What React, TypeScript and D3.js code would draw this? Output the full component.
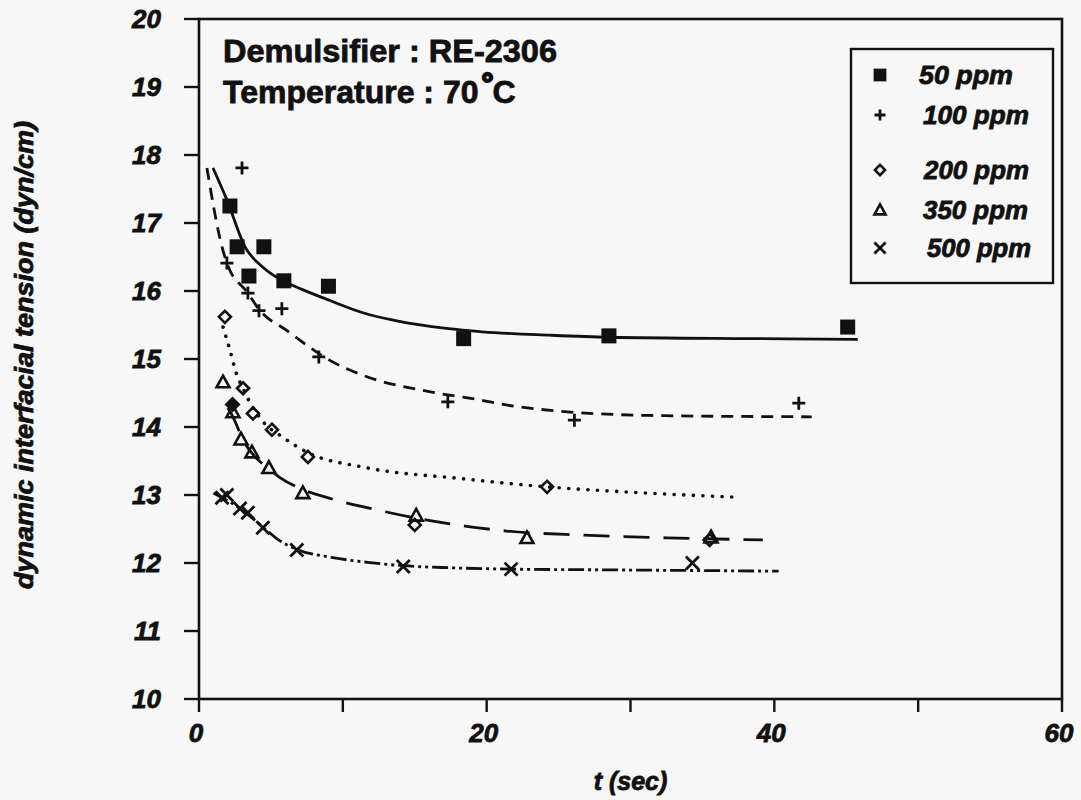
import React from "react";
import * as d3 from "d3";

// ---- data ----
const xTickMarks = [0, 10, 20, 30, 40, 50, 60];
const xTickLabels = [0, 20, 40, 60];
const yTicks = [10, 11, 12, 13, 14, 15, 16, 17, 18, 19, 20];

const legendLabels = ["50 ppm", "100 ppm", "200 ppm", "350 ppm", "500 ppm"];

const t50 = [2.15, 2.65, 3.47, 4.51, 5.9, 9.0, 18.4, 28.5, 45.1];
const y50 = [17.25, 16.65, 16.22, 16.65, 16.15, 16.07, 15.3, 15.34, 15.47];

const t100 = [2.99, 1.94, 3.4, 4.17, 5.76, 8.33, 17.3, 26.1, 41.7];
const y100 = [17.81, 16.41, 15.97, 15.71, 15.74, 15.03, 14.37, 14.1, 14.35];

const t200 = [1.8, 3.06, 3.75, 5.07, 7.57, 15.0, 24.2, 35.5];
const y200 = [15.62, 14.57, 14.2, 13.96, 13.56, 12.56, 13.12, 12.34];
const t200Solid = [2.33];
const y200Solid = [14.33];

const t350 = [1.67, 2.36, 2.92, 3.68, 4.86, 7.22, 15.1, 22.8, 35.6];
const y350 = [14.66, 14.22, 13.82, 13.63, 13.4, 13.03, 12.7, 12.37, 12.38];

const t500 = [1.6, 1.94, 2.85, 3.4, 4.44, 6.8, 14.2, 21.7, 34.3];
const y500 = [12.96, 13.0, 12.8, 12.74, 12.52, 12.19, 11.95, 11.91, 12.0];

const fit50T = [0.97, 1.94, 3.2, 4.44, 5.83, 7.2, 9.1, 11.4, 13.75, 17.2, 19.7, 24.4, 28.5, 38.3, 45.8];
const fit50Y = [17.81, 17.34, 16.65, 16.35, 16.15, 16.02, 15.86, 15.68, 15.56, 15.45, 15.4, 15.35, 15.32, 15.3, 15.29];

const fit100T = [0.55, 1.6, 1.94, 3.4, 4.17, 6.1, 9.1, 11.4, 16, 19.5, 22.1, 31.3, 42.6];
const fit100Y = [17.81, 16.65, 16.41, 15.97, 15.73, 15.42, 14.98, 14.76, 14.52, 14.4, 14.3, 14.17, 14.15];

const fit200T = [1.67, 2.15, 2.64, 3.06, 3.54, 4.44, 5.83, 7.5, 11.4, 18.3, 24.2, 30.1, 37.1];
const fit200Y = [15.47, 15.13, 14.76, 14.57, 14.36, 14.08, 13.85, 13.63, 13.41, 13.24, 13.12, 13.04, 12.97];

const fit350T = [2.0, 2.36, 3.06, 3.9, 4.7, 5.6, 7.0, 9.1, 12.6, 15.1, 18.6, 21.4, 26.7, 32.5, 39.2];
const fit350Y = [14.28, 14.15, 13.81, 13.56, 13.41, 13.26, 13.1, 12.95, 12.77, 12.66, 12.54, 12.47, 12.41, 12.37, 12.34];

const fit500T = [1.0, 2.85, 4.44, 5.4, 6.8, 9.3, 11.7, 14.2, 17.4, 21.7, 27.8, 40.3];
const fit500Y = [13.03, 12.8, 12.53, 12.36, 12.2, 12.08, 12.01, 11.96, 11.93, 11.91, 11.9, 11.88];

// ---- layout ----
const W = 1081;
const H = 800;
const x = d3.scaleLinear().domain([0, 60]).range([199, 1062]);
const y = d3.scaleLinear().domain([10, 20]).range([699, 19]);

const FONT = "'Liberation Sans', Arial, Helvetica, sans-serif";
const INK = "#111";
const TS = 0.8; // text stroke to thicken glyphs

type Pt = [number, number];
const zip = (a: number[], b: number[]): Pt[] => a.map((v, i) => [v, b[i]]);

const lineGen = d3
  .line<Pt>()
  .x((d) => x(d[0]))
  .y((d) => y(d[1]))
  .curve(d3.curveMonotoneX);

type Kind = "square" | "plus" | "diamond" | "triangle" | "cross" | "diamondSolid";

function Marker({ kind, cx, cy, s = 1 }: { kind: Kind; cx: number; cy: number; s?: number }) {
  switch (kind) {
    case "square": {
      const h = 7.5 * s;
      return <rect x={cx - h} y={cy - h} width={2 * h} height={2 * h} fill={INK} />;
    }
    case "plus": {
      const h = 6.5 * s;
      return (
        <path
          d={`M${cx - h},${cy}H${cx + h}M${cx},${cy - h}V${cy + h}`}
          stroke={INK}
          strokeWidth={2.8}
          fill="none"
        />
      );
    }
    case "diamond": {
      const h = 6 * s;
      return (
        <path
          d={`M${cx},${cy - h}L${cx + h},${cy}L${cx},${cy + h}L${cx - h},${cy}Z`}
          stroke={INK}
          strokeWidth={2.6}
          fill="none"
        />
      );
    }
    case "diamondSolid": {
      const h = 7 * s;
      return (
        <path
          d={`M${cx},${cy - h}L${cx + h},${cy}L${cx},${cy + h}L${cx - h},${cy}Z`}
          stroke={INK}
          strokeWidth={1.5}
          fill={INK}
        />
      );
    }
    case "triangle": {
      const h = 6.5 * s;
      return (
        <path
          d={`M${cx},${cy - h}L${cx + h},${cy + h * 0.8}L${cx - h},${cy + h * 0.8}Z`}
          stroke={INK}
          strokeWidth={2.6}
          fill="none"
          strokeLinejoin="miter"
        />
      );
    }
    case "cross": {
      const h = 6.5 * s;
      return (
        <path
          d={`M${cx - h},${cy - h}L${cx + h},${cy + h}M${cx - h},${cy + h}L${cx + h},${cy - h}`}
          stroke={INK}
          strokeWidth={2.8}
          fill="none"
        />
      );
    }
  }
  return null;
}

const series = [
  { t: t50, v: y50, kind: "square" as Kind, fitT: fit50T, fitY: fit50Y, dash: "none", cap: "butt" },
  { t: t100, v: y100, kind: "plus" as Kind, fitT: fit100T, fitY: fit100Y, dash: "12 8", cap: "butt" },
  { t: t200, v: y200, kind: "diamond" as Kind, fitT: fit200T, fitY: fit200Y, dash: "0.1 9.5", cap: "round" },
  { t: t350, v: y350, kind: "triangle" as Kind, fitT: fit350T, fitY: fit350Y, dash: "26 14", cap: "butt" },
  { t: t500, v: y500, kind: "cross" as Kind, fitT: fit500T, fitY: fit500Y, dash: "16 4 3 4 3 4", cap: "butt" },
];

const legendY = [75, 115, 170, 210, 248];
const legendTextX = [919, 923, 924, 923, 927];
const legendTextLen = [94, 106, 105, 105, 104];

export default function App() {
  const [x0, x1] = x.range();
  const [y0, y1] = y.range();
  const heavy = { fontWeight: "bold" as const, fill: INK, stroke: INK, strokeWidth: TS };
  return (
    <div style={{ position: "absolute", left: 0, top: 0 }}>
      <svg width={W} height={H} style={{ display: "block", background: "#f7f7f7" }} fontFamily={FONT}>
        {/* frame */}
        <rect x={x0} y={y1} width={x1 - x0} height={y0 - y1} fill="none" stroke={INK} strokeWidth={2.6} />

        {/* y ticks */}
        {yTicks.map((v) => (
          <g key={"y" + v}>
            <line x1={x0 - 15} x2={x0} y1={y(v)} y2={y(v)} stroke={INK} strokeWidth={2.4} />
            <text x={161} y={y(v)} dy="0.36em" textAnchor="end" fontSize={26} fontStyle="italic" {...heavy}>
              {v}
            </text>
          </g>
        ))}

        {/* x ticks */}
        {xTickMarks.map((v) => (
          <line key={"xt" + v} x1={x(v)} x2={x(v)} y1={y0} y2={y0 + 13} stroke={INK} strokeWidth={2.4} />
        ))}
        {xTickLabels.map((v) => (
          <text key={"xl" + v} x={x(v) - 3} y={y0 + 43} textAnchor="middle" fontSize={26} fontStyle="italic" {...heavy}>
            {v}
          </text>
        ))}

        {/* axis titles */}
        <text x={(x0 + x1) / 2} y={790} textAnchor="middle" fontSize={25} fontStyle="italic" {...heavy}>
          t (sec)
        </text>
        <text
          transform={`translate(33, ${(y0 + y1) / 2 - 4}) rotate(-90)`}
          textAnchor="middle"
          fontSize={25}
          fontStyle="italic"
          textLength={468}
          lengthAdjust="spacingAndGlyphs"
          {...heavy}
        >
          dynamic interfacial tension (dyn/cm)
        </text>

        {/* annotation */}
        <text x={223} y={62} fontSize={32} textLength={334} lengthAdjust="spacingAndGlyphs" {...heavy}>
          Demulsifier : RE-2306
        </text>
        <text x={223} y={103} fontSize={32} {...heavy}>
          Temperature : 70
          <tspan dx={3} dy={-9} fontSize={30} strokeWidth={2}>
            °
          </tspan>
          <tspan dx={-1} dy={9}>C</tspan>
        </text>

        {/* fitted curves */}
        {series.map((s, i) => (
          <path
            key={"fit" + i}
            d={lineGen(zip(s.fitT, s.fitY)) || ""}
            fill="none"
            stroke={INK}
            strokeWidth={i === 2 ? 3.6 : 2.8}
            strokeDasharray={s.dash}
            strokeLinecap={s.cap as any}
          />
        ))}

        {/* markers */}
        {series.map((s, i) => (
          <g key={"m" + i}>
            {s.t.map((tv, j) => (
              <Marker key={j} kind={s.kind} cx={x(tv)} cy={y(s.v[j])} />
            ))}
          </g>
        ))}
        {t200Solid.map((tv, j) => (
          <Marker key={"ds" + j} kind="diamondSolid" cx={x(tv)} cy={y(y200Solid[j])} />
        ))}

        {/* legend */}
        <rect x={851} y={49} width={202} height={234} fill="none" stroke={INK} strokeWidth={2.4} />
        {series.map((s, i) => (
          <g key={"lg" + i}>
            <Marker kind={s.kind} cx={880} cy={legendY[i]} s={0.85} />
            <text
              x={legendTextX[i]}
              y={legendY[i]}
              dy="0.36em"
              fontSize={25}
              fontStyle="italic"
              textLength={legendTextLen[i]}
              lengthAdjust="spacingAndGlyphs"
              {...heavy}
            >
              {legendLabels[i]}
            </text>
          </g>
        ))}
      </svg>
    </div>
  );
}
